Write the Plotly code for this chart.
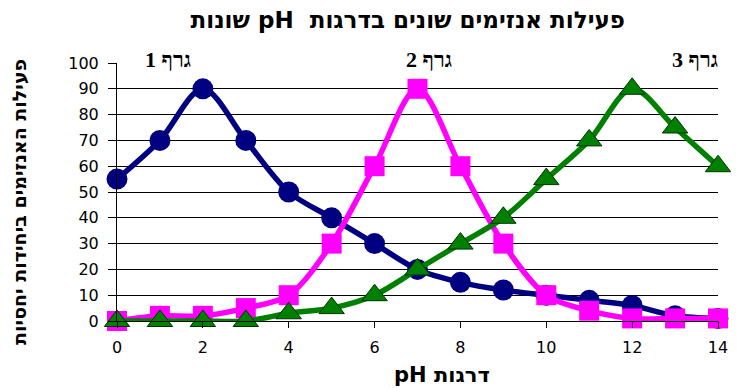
import plotly.graph_objects as go

# pH levels and relative enzyme activity for three enzymes
ph = list(range(15))
graph1 = [55, 70, 90, 70, 50, 40, 30, 20, 15, 12, 10, 8, 6, 2, 1]
graph2 = [0, 2, 2, 5, 10, 30, 60, 90, 60, 30, 10, 4, 1, 1, 1]
graph3 = [0, 0, 0, 0, 3, 5, 10, 20, 30, 40, 55, 70, 90, 75, 60]

x_ticks = list(range(0, 15, 2))
y_ticks = list(range(0, 101, 10))
grid_vals = list(range(10, 100, 10))

series_labels = ["גרף 1", "גרף 2", "גרף 3"]
label_x = [1.18, 7.26, 13.46]

RLE, PDF = "\u202b", "\u202c"
title_text = "פעילות אנזימים שונים בדרגות\u00a0 pH שונות"
x_title = "דרגות pH"
y_title = "פעילות האנזימים ביחידות יחסיות"

SANS = "DejaVu Sans, Liberation Sans, Arial, sans-serif"
SERIF = "Liberation Serif, Times New Roman, serif"

fig = go.Figure()

fig.add_trace(go.Scatter(
    x=ph, y=graph1, mode="lines+markers", name=series_labels[0],
    line=dict(color="#000080", width=5.5, shape="spline", smoothing=0.9),
    marker=dict(symbol="circle", size=21, color="#000080"),
    cliponaxis=False,
))
fig.add_trace(go.Scatter(
    x=ph, y=graph2, mode="lines+markers", name=series_labels[1],
    line=dict(color="#FF00FF", width=5.5, shape="spline", smoothing=0.9),
    marker=dict(symbol="square", size=20, color="#FF00FF"),
    cliponaxis=False,
))
fig.add_trace(go.Scatter(
    x=ph, y=graph3, mode="lines+markers", name=series_labels[2],
    line=dict(color="#008000", width=5.5, shape="spline", smoothing=0.9),
    marker=dict(symbol="triangle-up", size=22, color="#008000",
                line=dict(color="#003300", width=1)),
    cliponaxis=False,
))

annotations = []
for lbl, lx in zip(series_labels, label_x):
    annotations.append(dict(
        x=lx, y=1.013, xref="x", yref="paper", text="<b>" + lbl + "</b>",
        showarrow=False, xanchor="center", yanchor="middle",
        font=dict(family=SERIF, size=22, color="black"),
    ))
annotations.append(dict(
    x=0.541, y=-0.21, xref="paper", yref="paper",
    text="<b>" + RLE + x_title + PDF + "</b>",
    showarrow=False, xanchor="center", yanchor="middle",
    font=dict(family=SANS, size=21, color="black"),
))
annotations.append(dict(
    x=-0.162, y=0.46, xref="paper", yref="paper",
    text="<b>" + RLE + y_title + PDF + "</b>", textangle=-90,
    showarrow=False, xanchor="center", yanchor="middle",
    font=dict(family=SANS, size=19, color="black"),
))

fig.update_layout(
    width=740, height=388,
    margin=dict(l=117, r=15, t=63, b=67),
    paper_bgcolor="white", plot_bgcolor="white",
    showlegend=False,
    title=dict(
        text="<b>" + RLE + title_text + PDF + "</b>",
        x=0.551, xanchor="center", y=0.948, yanchor="middle",
        font=dict(family=SANS, size=23, color="black"),
    ),
    annotations=annotations,
    xaxis=dict(
        range=[0, 14], tickvals=x_ticks, ticktext=[str(v) for v in x_ticks],
        showline=True, linecolor="black", linewidth=1,
        ticks="outside", ticklen=6, tickcolor="black",
        showgrid=False, zeroline=False, ticklabelstandoff=6,
        tickfont=dict(family=SANS, size=16, color="black"),
    ),
    yaxis=dict(
        range=[0, 100], tickvals=y_ticks, ticktext=[str(v) for v in y_ticks],
        showline=True, linecolor="black", linewidth=1,
        ticks="outside", ticklen=8, tickcolor="black",
        showgrid=False, zeroline=False, ticklabelstandoff=6,
        tickfont=dict(family=SANS, size=16, color="black"),
        minor=dict(tickvals=grid_vals, showgrid=True, gridcolor="black",
                   gridwidth=1, ticks=""),
    ),
    yaxis2=dict(
        range=[0, 100], overlaying="y", side="left", anchor="x",
        tickvals=[100], ticks="inside", ticklen=6, tickcolor="black",
        showticklabels=False, showgrid=False, zeroline=False, showline=False,
    ),
)

# invisible helper trace so the inner 100 tick axis is rendered
fig.add_trace(go.Scatter(x=[None], y=[None], yaxis="y2", showlegend=False,
                         hoverinfo="skip"))

fig.write_html("out.html")
